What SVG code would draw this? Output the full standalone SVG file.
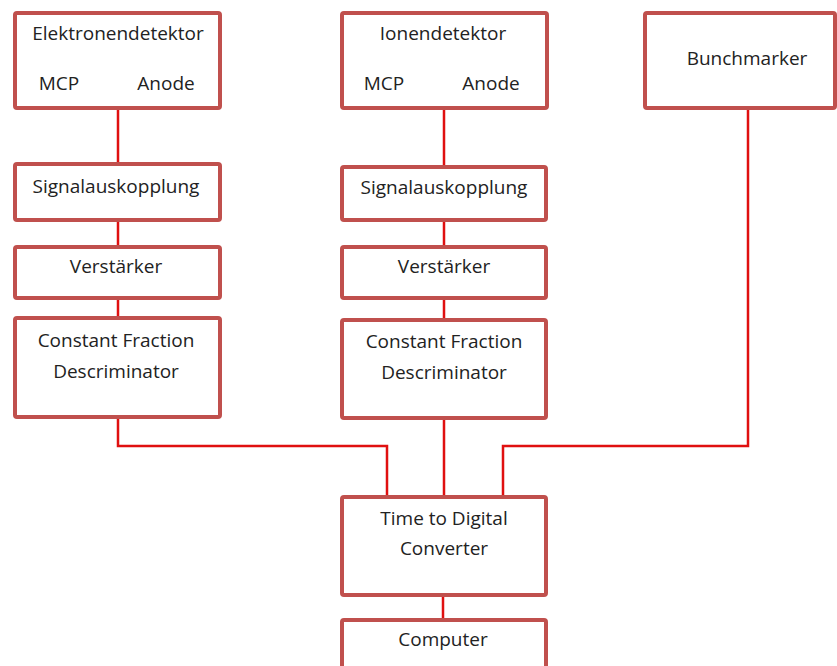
<svg xmlns="http://www.w3.org/2000/svg" width="837" height="666" viewBox="0 0 837 666">
<style>
.box{fill:#fff;stroke:#c0504d;stroke-width:4;}
.t{font-family:"Open Sans","Noto Sans",sans-serif;font-size:19px;fill:#222;text-anchor:middle;}
.c{fill:none;stroke:#e01010;stroke-width:2.5;}
</style>
<rect width="837" height="666" fill="#fff"/>
<g id="connectors">
<path class="c" d="M118 108V164M118 220V247M118 298V318M118 417V446H387V497"/>
<path class="c" d="M444 108V167M444 220V247M444 298V320M444 418V497"/>
<path class="c" d="M748 108V446H503V497"/>
<path class="c" d="M443 595V620"/>
</g>
<g id="elektronendetektor">
<rect class="box" x="15" y="13" width="205" height="95" rx="2"/>
<text class="t" x="118" y="40">Elektronendetektor</text>
<text class="t" x="59" y="90">MCP</text>
<text class="t" x="166" y="90">Anode</text>
</g>
<g id="ionendetektor">
<rect class="box" x="342" y="13" width="205" height="95" rx="2"/>
<text class="t" x="443" y="40">Ionendetektor</text>
<text class="t" x="384" y="90">MCP</text>
<text class="t" x="491" y="90">Anode</text>
</g>
<g id="bunchmarker">
<rect class="box" x="645" y="13" width="190" height="95" rx="2"/>
<text class="t" x="747" y="65">Bunchmarker</text>
</g>
<g id="signal1">
<rect class="box" x="15" y="164" width="205" height="56" rx="2"/>
<text class="t" x="116" y="193">Signalauskopplung</text>
</g>
<g id="signal2">
<rect class="box" x="342" y="167" width="204" height="53" rx="2"/>
<text class="t" x="444" y="194">Signalauskopplung</text>
</g>
<g id="verstaerker1">
<rect class="box" x="15" y="247" width="205" height="51" rx="2"/>
<text class="t" x="116" y="273">Verstärker</text>
</g>
<g id="verstaerker2">
<rect class="box" x="342" y="247" width="204" height="51" rx="2"/>
<text class="t" x="444" y="273">Verstärker</text>
</g>
<g id="cfd1">
<rect class="box" x="15" y="318" width="205" height="99" rx="2"/>
<text class="t" x="116" y="347">Constant Fraction</text>
<text class="t" x="116" y="378">Descriminator</text>
</g>
<g id="cfd2">
<rect class="box" x="342" y="320" width="204" height="98" rx="2"/>
<text class="t" x="444" y="348">Constant Fraction</text>
<text class="t" x="444" y="379">Descriminator</text>
</g>
<g id="tdc">
<rect class="box" x="342" y="497" width="204" height="98" rx="2"/>
<text class="t" x="444" y="525">Time to Digital</text>
<text class="t" x="444" y="555">Converter</text>
</g>
<g id="computer">
<rect class="box" x="342" y="620" width="204" height="60" rx="2"/>
<text class="t" x="443" y="646">Computer</text>
</g>
</svg>
